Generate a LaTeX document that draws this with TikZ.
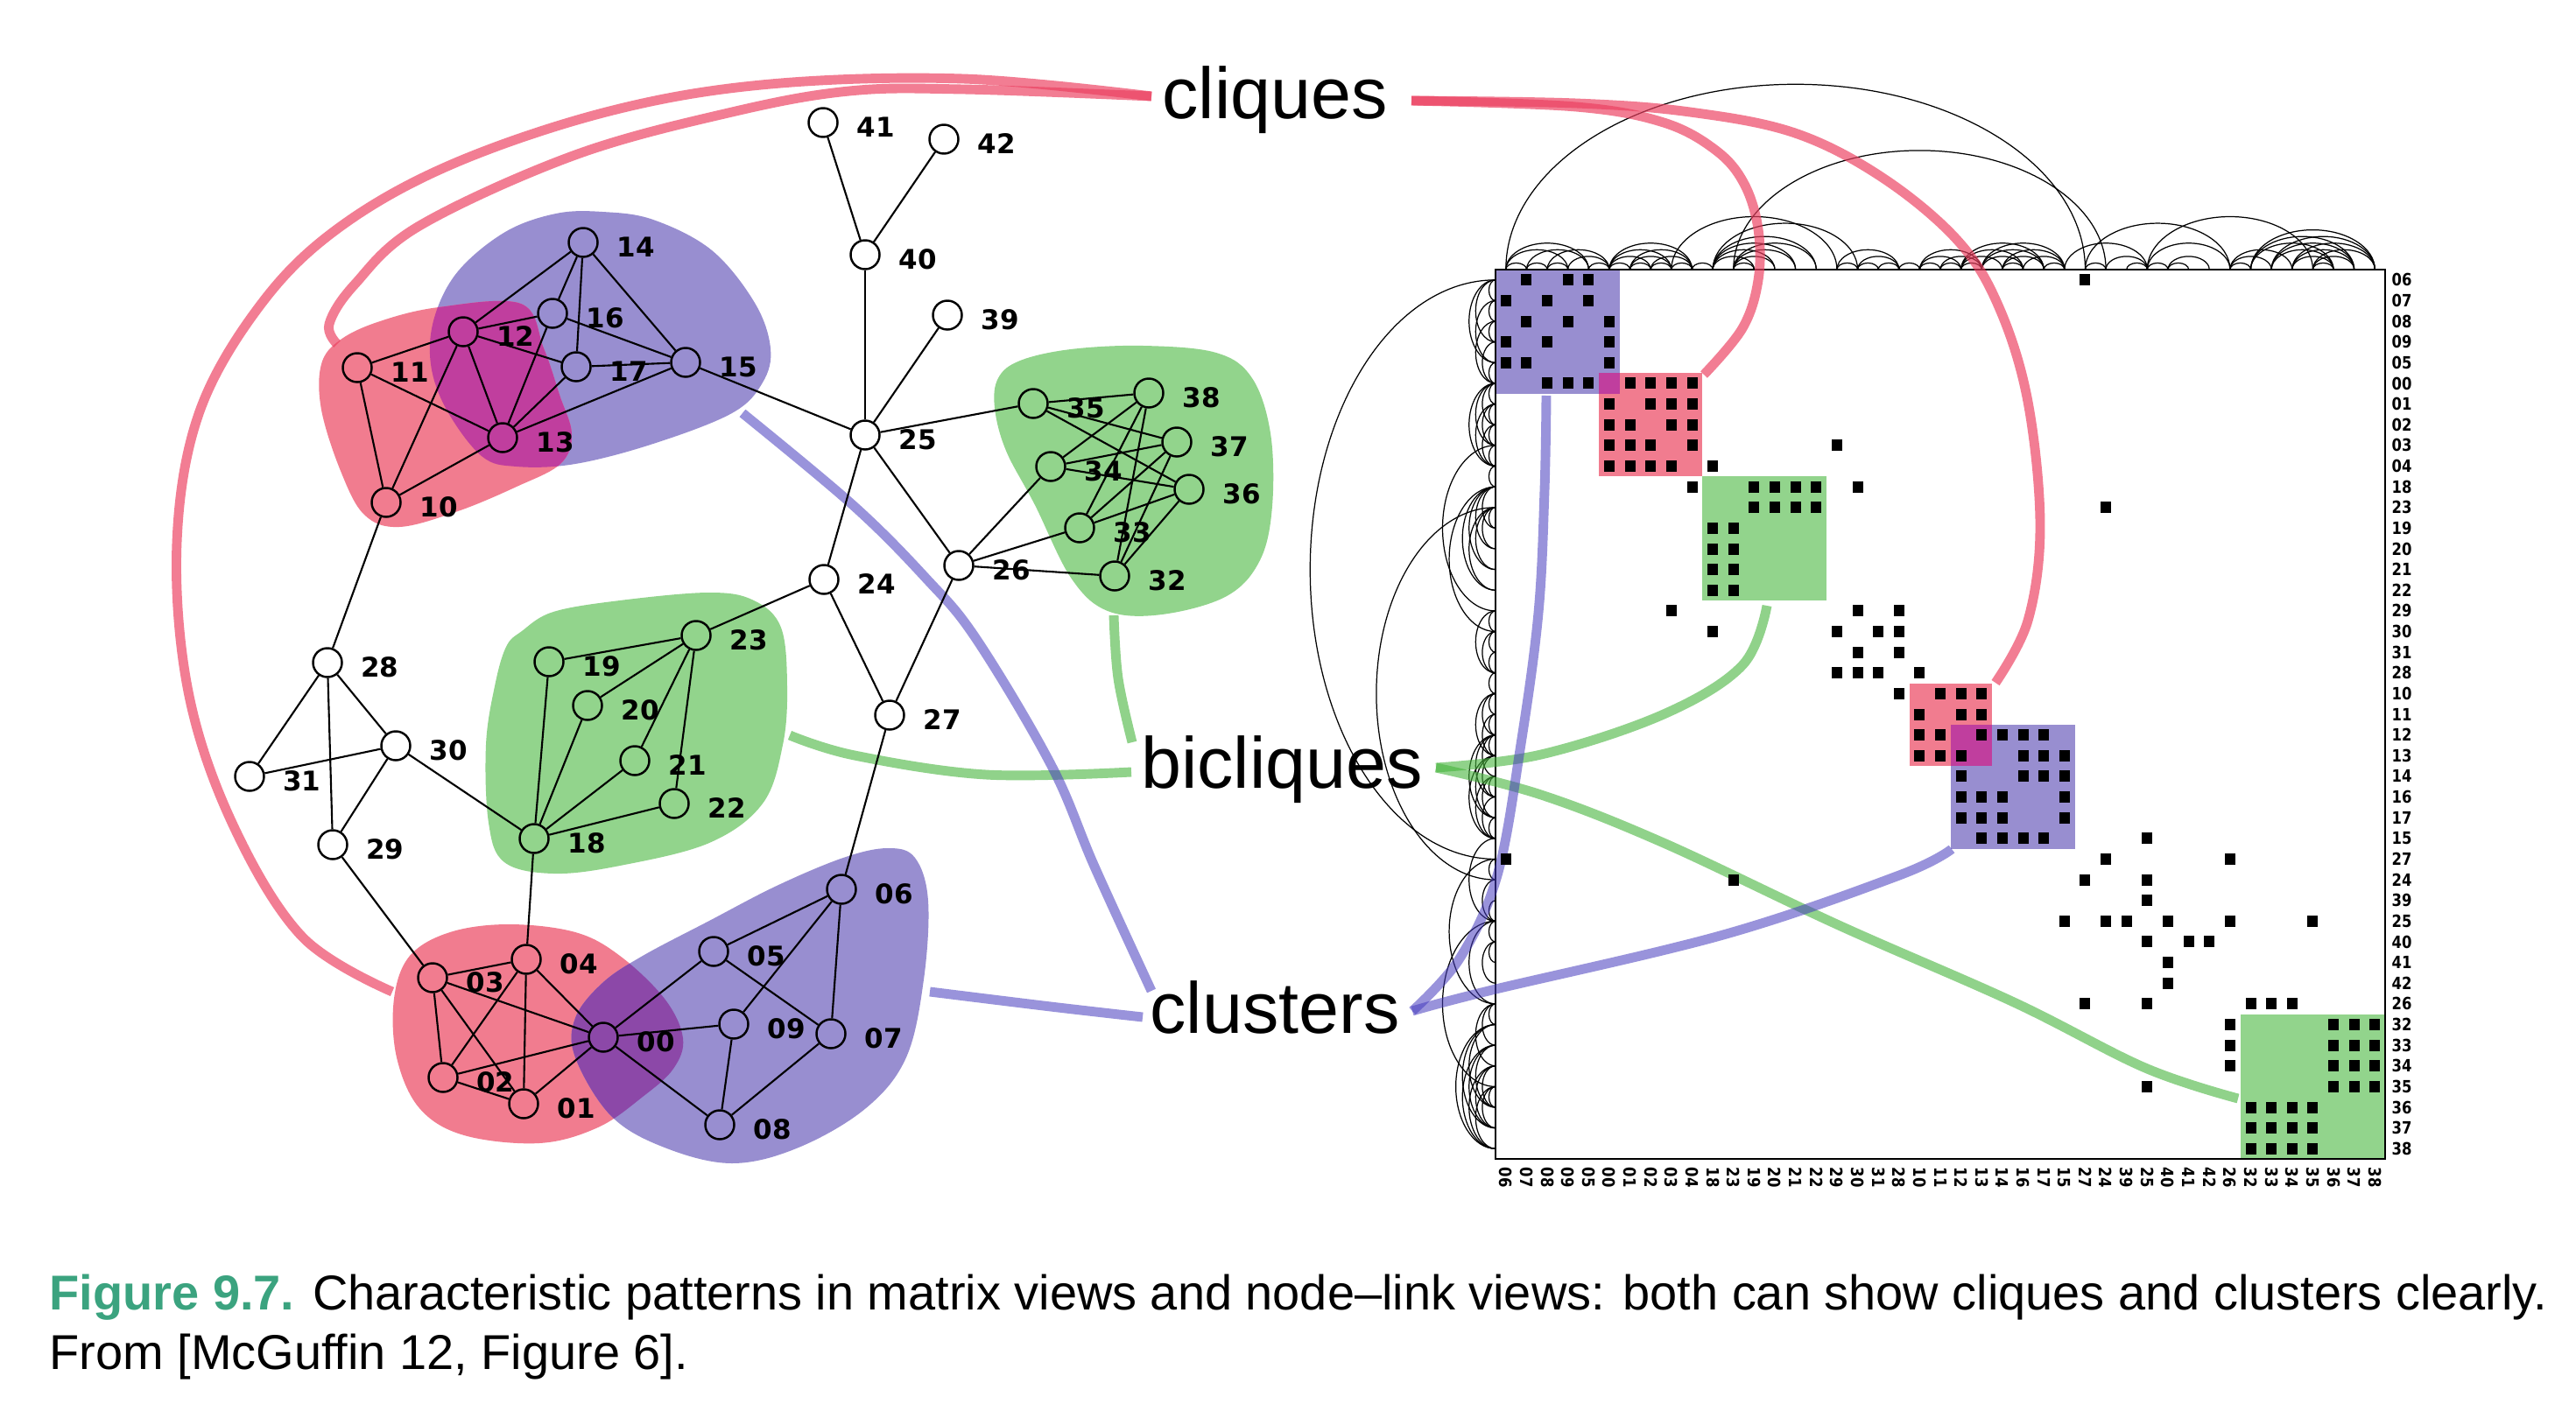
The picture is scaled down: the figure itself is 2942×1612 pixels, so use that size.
\documentclass[tikz,border=0pt]{standalone}
\usepackage{fontspec}
\setmainfont{Liberation Sans}
\newfontfamily\dvs{DejaVu Sans}
\newfontfamily\mlab{DejaVu Sans}[FakeStretch=0.85]
\definecolor{pinkC}{RGB}{241,124,143}
\definecolor{purpC}{RGB}{152,142,208}
\definecolor{greenC}{RGB}{146,212,140}
\definecolor{magC}{RGB}{192,62,158}
\definecolor{dpurC}{RGB}{140,72,168}
\definecolor{conPink}{RGB}{236,64,96}
\definecolor{conGreen}{RGB}{70,180,60}
\definecolor{conPurp}{RGB}{70,60,190}
\definecolor{figteal}{RGB}{59,163,127}
\def\mL{1708}
\def\mT{308}
\def\cs{23.63}
\def\blobRone{plot[smooth cycle,tension=0.6] coordinates {(389,388) (434,367) (501,351) (595,347) (621,398) (639,451) (653,496) (640,530) (590,556) (523,584) (456,602) (416,588) (389,538) (367,468) (367,416)}}
\def\blobPone{plot[smooth cycle,tension=0.6] coordinates {(688,242) (746,251) (813,286) (862,346) (880,398) (871,437) (836,472) (746,507) (657,530) (590,533) (550,521) (510,468) (492,416) (496,363) (523,310) (577,265) (635,244)}}
\def\blobGone{plot[smooth cycle,tension=0.6] coordinates {(596,721) (632,699) (708,686) (810,677) (861,686) (892,717) (899,784) (894,851) (871,918) (810,963) (708,989) (632,998) (576,985) (558,940) (555,851) (565,784) (578,739)}}
\def\blobGtwo{plot[smooth cycle,tension=0.6] coordinates {(1140,432) (1165,412) (1223,399) (1306,395) (1389,403) (1430,432) (1451,495) (1453,578) (1439,640) (1401,681) (1327,702) (1265,698) (1223,660) (1182,577) (1149,515) (1136,466)}}
\def\blobRtwo{plot[smooth cycle,tension=0.6] coordinates {(581,1056) (657,1065) (708,1092) (759,1141) (780,1186) (769,1221) (734,1253) (683,1288) (616,1306) (530,1297) (479,1266) (453,1208) (450,1141) (468,1092) (514,1065)}}
\def\blobPtwo{plot[smooth cycle,tension=0.6] coordinates {(1014,969) (1045,980) (1060,1029) (1055,1119) (1035,1208) (989,1266) (912,1311) (836,1329) (759,1311) (698,1275) (657,1208) (657,1163) (688,1123) (734,1092) (810,1052) (887,1012) (963,980)}}
\begin{document}
\begin{tikzpicture}[x=0.01cm,y=-0.01cm,
  vtx/.style={circle,draw=black,line width=0.7pt,minimum size=0.33cm,inner sep=0pt},
  lbl/.style={font=\dvs\bfseries\fontsize{8.8}{10}\selectfont,inner sep=0pt,yshift=-0.5mm},
  label distance=2mm,
  edge/.style={line width=0.6pt},
  arcline/.style={line width=0.35pt},
  word/.style={font=\fontsize{23.5}{28}\selectfont,inner sep=0pt},
  conP/.style={line width=3.1pt,draw=conPink,draw opacity=0.68},
  conG/.style={line width=3.1pt,draw=conGreen,draw opacity=0.6},
  conU/.style={line width=3.1pt,draw=conPurp,draw opacity=0.55},
  mlbl/.style={font=\mlab\bfseries\fontsize{5.5}{6}\selectfont,inner sep=0pt},
  captxt/.style={font=\fontsize{15.9}{19}\selectfont,inner sep=0pt,anchor=base west}]
\useasboundingbox (0,0) rectangle (2942,1612);
\fill[white] (0,0) rectangle (2942,1612);
% ---------- blobs ----------
\fill[purpC] \blobPone;
\fill[pinkC] \blobRone;
\begin{scope}\clip \blobRone; \fill[magC] \blobPone; \end{scope}
\fill[greenC] \blobGone;
\fill[greenC] \blobGtwo;
\fill[pinkC] \blobRtwo;
\fill[purpC] \blobPtwo;
\begin{scope}\clip \blobRtwo; \fill[dpurC] \blobPtwo; \end{scope}
% ---------- matrix blocks ----------
\fill[purpC] (\mL,\mT) rectangle (\mL+6*\cs,\mT+6*\cs);
\fill[pinkC] (\mL+5*\cs,\mT+5*\cs) rectangle (\mL+10*\cs,\mT+10*\cs);
\fill[magC] (\mL+5*\cs,\mT+5*\cs) rectangle (\mL+6*\cs,\mT+6*\cs);
\fill[greenC] (\mL+10*\cs,\mT+10*\cs) rectangle (\mL+16*\cs,\mT+16*\cs);
\fill[pinkC] (\mL+20*\cs,\mT+20*\cs) rectangle (\mL+24*\cs,\mT+24*\cs);
\fill[purpC] (\mL+22*\cs,\mT+22*\cs) rectangle (\mL+28*\cs,\mT+28*\cs);
\fill[magC] (\mL+22*\cs,\mT+22*\cs) rectangle (\mL+24*\cs,\mT+24*\cs);
\fill[greenC] (\mL+36*\cs,\mT+36*\cs) rectangle (\mL+43*\cs,\mT+43*\cs);
\draw[line width=0.5pt] (\mL,\mT) rectangle (\mL+43*\cs,\mT+43*\cs);
% ---------- arcs (top and left) ----------
\foreach \i/\j in {0/1,0/3,0/4,0/28,1/2,1/4,2/3,2/5,3/5,4/5,5/6,5/7,5/8,5/9,6/7,6/8,6/9,7/8,7/9,8/9,8/16,9/10,10/12,10/13,10/14,10/15,10/17,11/12,11/13,11/14,11/15,11/29,16/17,16/19,17/18,17/19,18/19,19/20,20/21,20/22,20/23,21/22,21/23,22/23,22/24,22/25,22/26,23/25,23/26,23/27,24/25,24/26,24/27,25/27,26/27,27/31,28/29,28/35,29/31,30/31,31/32,31/35,31/39,32/33,32/34,35/36,35/37,35/38,36/40,36/41,36/42,37/40,37/41,37/42,38/40,38/41,38/42,39/40,39/41,39/42}{
  \pgfmathsetmacro{\xa}{\mL+(\i+0.5)*\cs}
  \pgfmathsetmacro{\xb}{\mL+(\j+0.5)*\cs}
  \pgfmathsetmacro{\ya}{\mT+(\i+0.5)*\cs}
  \pgfmathsetmacro{\yb}{\mT+(\j+0.5)*\cs}
  \pgfmathsetmacro{\rx}{(\xb-\xa)/2}
  \pgfmathsetmacro{\ry}{0.64*\rx}
  \pgfmathsetmacro{\xm}{(\xa+\xb)/2}
  \pgfmathsetmacro{\ym}{(\ya+\yb)/2}
  \draw[arcline] (\xa,\mT) .. controls (\xa,\mT-0.5523*\ry) and (\xm-0.5523*\rx,\mT-\ry) .. (\xm,\mT-\ry) .. controls (\xm+0.5523*\rx,\mT-\ry) and (\xb,\mT-0.5523*\ry) .. (\xb,\mT);
  \draw[arcline] (\mL,\ya) .. controls (\mL-0.5523*\ry,\ya) and (\mL-\ry,\ym-0.5523*\rx) .. (\mL-\ry,\ym) .. controls (\mL-\ry,\ym+0.5523*\rx) and (\mL-0.5523*\ry,\yb) .. (\mL,\yb);
}
% ---------- label words and connector end points ----------
\node[word,anchor=base] (cliques) at (1456,135) {cliques};
\node[word,anchor=base] (bicliques) at (1464,900) {bicliques};
\node[word,anchor=base] (clusters) at (1456,1180) {clusters};
\coordinate (cqL) at (1315,110);
\coordinate (cqR) at (1612,115);
\coordinate (bqL) at (1292,882);
\coordinate (bqU) at (1293,848);
\coordinate (bqR) at (1640,877);
\coordinate (clL) at (1305,1162);
\coordinate (clU) at (1315,1132);
\coordinate (clR) at (1613,1155);
\coordinate (eR2) at (448,1133);
\coordinate (eR1) at (385,393);
\coordinate (eMR1) at (1946,428);
\coordinate (eMR2) at (2279,780);
\coordinate (eG1) at (902,840);
\coordinate (eG2) at (1272,703);
\coordinate (eMG1) at (2018,692);
\coordinate (eMG2) at (2556,1255);
\coordinate (eP2) at (1062,1133);
\coordinate (eP1) at (848,472);
\coordinate (eMP1) at (1766,452);
\coordinate (eMP2) at (2229,970);
% ---------- connectors ----------
\draw[conP] plot[smooth,tension=0.6] coordinates {(cqL) (1100,90) (880,96) (700,126) (520,186) (390,258) (300,345) (228,470) (202,620) (215,790) (265,940) (345,1070) (eR2)};
\draw[conP] plot[smooth,tension=0.6] coordinates {(cqL) (1100,102) (970,104) (836,128) (657,177) (479,258) (405,325) (376,370) (eR1)};
\draw[conP] plot[smooth,tension=0.6] coordinates {(cqR) (1800,122) (1900,140) (1960,172) (1992,210) (2008,262) (2008,320) (1990,375) (eMR1)};
\draw[conP] plot[smooth,tension=0.6] coordinates {(cqR) (1800,118) (1930,128) (2050,152) (2150,203) (2236,275) (2283,351) (2316,459) (2330,601) (2316,709) (eMR2)};
\draw[conG] plot[smooth,tension=0.6] coordinates {(bqL) (1126,885) (976,863) (eG1)};
\draw[conG] plot[smooth,tension=0.6] coordinates {(bqU) (1277,775) (eG2)};
\draw[conG] plot[smooth,tension=0.6] coordinates {(bqR) (1760,862) (1900,816) (1990,760) (eMG1)};
\draw[conG] plot[smooth,tension=0.6] coordinates {(bqR) (1760,908) (1900,963) (2100,1057) (2300,1145) (2450,1220) (eMG2)};
\draw[conU] plot[smooth,tension=0.6] coordinates {(clL) (1200,1150) (eP2)};
\draw[conU] plot[smooth,tension=0.6] coordinates {(clU) (1250,990) (1201,875) (1115,730) (1057,660) (974,577) (eP1)};
\draw[conU] plot[smooth,tension=0.6] coordinates {(clR) (1667,1095) (1710,1000) (1737,850) (1757,700) (1764,560) (eMP1)};
\draw[conU] plot[smooth,tension=0.6] coordinates {(clR) (1700,1132) (1968,1068) (2169,1000) (eMP2)};
% ---------- matrix cells ----------
\foreach \i/\j in {0/1,0/3,0/4,0/28,1/2,1/4,2/3,2/5,3/5,4/5,5/6,5/7,5/8,5/9,6/7,6/8,6/9,7/8,7/9,8/9,8/16,9/10,10/12,10/13,10/14,10/15,10/17,11/12,11/13,11/14,11/15,11/29,16/17,16/19,17/18,17/19,18/19,19/20,20/21,20/22,20/23,21/22,21/23,22/23,22/24,22/25,22/26,23/25,23/26,23/27,24/25,24/26,24/27,25/27,26/27,27/31,28/29,28/35,29/31,30/31,31/32,31/35,31/39,32/33,32/34,35/36,35/37,35/38,36/40,36/41,36/42,37/40,37/41,37/42,38/40,38/41,38/42,39/40,39/41,39/42}{
  \pgfmathsetmacro{\xa}{\mL+(\i+0.5)*\cs}
  \pgfmathsetmacro{\xb}{\mL+(\j+0.5)*\cs}
  \pgfmathsetmacro{\ya}{\mT+(\i+0.5)*\cs}
  \pgfmathsetmacro{\yb}{\mT+(\j+0.5)*\cs}
  \fill (\xa-6,\yb-6.5) rectangle (\xa+6,\yb+6.5);
  \fill (\xb-6,\ya-6.5) rectangle (\xb+6,\ya+6.5);
}
% ---------- matrix labels ----------
\foreach \t [count=\k from 0] in {06,07,08,09,05,00,01,02,03,04,18,23,19,20,21,22,29,30,31,28,10,11,12,13,14,16,17,15,27,24,39,25,40,41,42,26,32,33,34,35,36,37,38}{
  \node[mlbl,anchor=west] (r\t) at (2731,{\mT+(\k+0.5)*\cs}) {\t};
  \node[mlbl,anchor=west,rotate=-90] (c\t) at ({\mL+(\k+0.5)*\cs},1333) {\t};
}
% ---------- graph nodes ----------
\foreach \n/\x/\y in {41/940/140,42/1078/159,40/988/291,39/1082/360,25/988/497,35/1180/461,38/1312/449,37/1344/505,36/1358/559,34/1200/533,33/1233/603,32/1273/658,26/1095/646,24/941/662,27/1016/817,14/666/277,16/631/358,12/529/379,17/658/419,15/783/414,11/408/420,13/574/500,10/441/574,28/374/757,31/285/887,30/452/852,29/380/965,19/627/756,20/671/806,21/725/869,22/770/918,23/795/726,18/610/958,06/961/1016,05/815/1087,04/601/1096,03/494/1117,00/689/1185,09/838/1170,07/949/1181,02/506/1231,01/598/1261,08/822/1285}{
  \node[vtx,label={[lbl]right:\n}] (v\n) at (\x,\y) {};
}
% ---------- graph edges ----------
\foreach \a/\b in {06/07,06/09,06/05,06/27,07/08,07/05,08/09,08/00,09/00,05/00,00/01,00/02,00/03,00/04,01/02,01/03,01/04,02/03,02/04,03/04,03/29,04/18,18/19,18/20,18/21,18/22,18/30,23/19,23/20,23/21,23/22,23/24,29/30,29/28,30/31,30/28,31/28,28/10,10/11,10/12,10/13,11/12,11/13,12/13,12/14,12/16,12/17,13/16,13/17,13/15,14/16,14/17,14/15,16/15,17/15,15/25,27/24,27/26,24/25,39/25,25/40,25/26,25/35,40/41,40/42,26/32,26/33,26/34,32/36,32/37,32/38,33/36,33/37,33/38,34/36,34/37,34/38,35/36,35/37,35/38}{
  \draw[edge] (v\a) -- (v\b);
}
% ---------- caption ----------
\node[captxt] (capA) at (56,1496) {\textcolor{figteal}{\bfseries Figure 9.7.} Characteristic patterns in matrix views and node–link views: both can show cliques and clusters clearly.};
\node[captxt] (capB) at (56,1564) {From [McGuffin 12, Figure 6].};
\end{tikzpicture}
\end{document}
